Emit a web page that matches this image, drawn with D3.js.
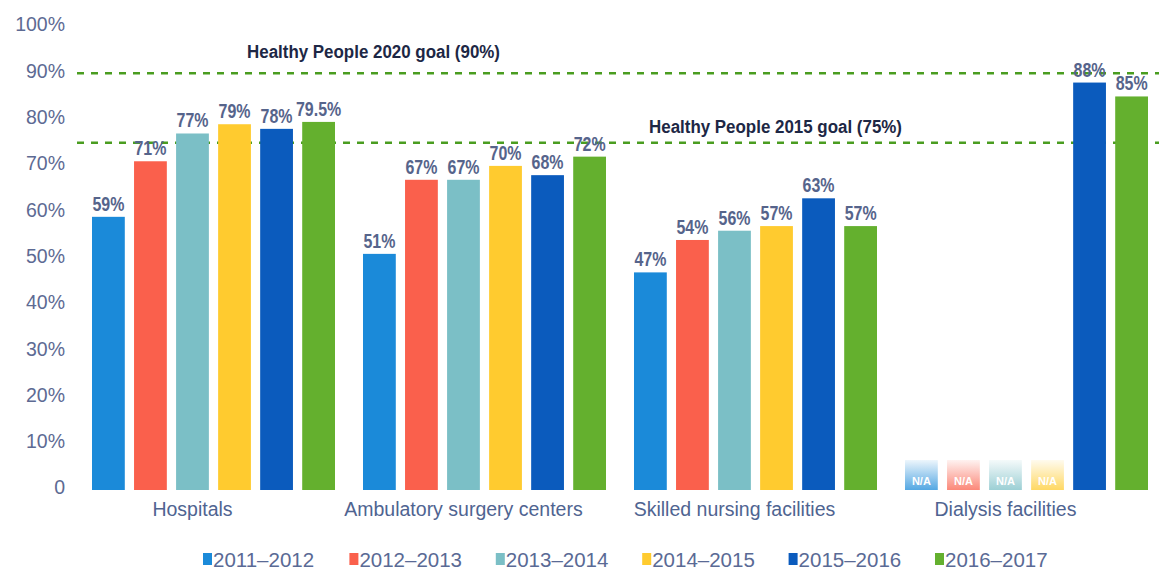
<!DOCTYPE html>
<html>
<head>
<meta charset="utf-8">
<script src="https://cdn.jsdelivr.net/npm/d3@7"></script>
<style>
  body { margin: 0; background: #fff; }
  svg { display: block; }
  .tick text { font-family: "Liberation Sans", Arial, sans-serif; }
</style>
</head>
<body>
<svg id="chart"></svg>
<script>
var screen = {width: 1159, height: 572};

// data
var categories = ["Hospitals", "Ambulatory surgery centers", "Skilled nursing facilities", "Dialysis facilities"];
var seriesNames = ["2011\u20132012", "2012\u20132013", "2013\u20132014", "2014\u20132015", "2015\u20132016", "2016\u20132017"];
var s2011 = [59, 51, 47, null];
var s2012 = [71, 67, 54, null];
var s2013 = [77, 67, 56, null];
var s2014 = [79, 70, 57, null];
var s2015 = [78, 68, 63, 88];
var s2016 = [79.5, 72, 57, 85];
var seriesValues = [s2011, s2012, s2013, s2014, s2015, s2016];
var colors = ["#1b8ad9", "#fa604c", "#7bbfc6", "#ffcb2f", "#0b5bbd", "#64b02e"];
var yTicks = [0, 10, 20, 30, 40, 50, 60, 70, 80, 90, 100];
var goalValues = [90, 75];
var goalLabels = ["Healthy People 2020 goal (90%)", "Healthy People 2015 goal (75%)"];

var svg = d3.select("#chart")
    .attr("width", screen.width)
    .attr("height", screen.height);

var y = d3.scaleLinear().domain([0, 100]).range([490, 27]);
var x0 = d3.scaleBand().domain(categories).range([92, 1148]).paddingInner(0.1033).paddingOuter(0);
var x1 = d3.scaleBand().domain(seriesNames).range([0, 243]).paddingInner(0.22).paddingOuter(0);

var rows = [];
categories.forEach(function(c, i) {
    seriesNames.forEach(function(s, j) {
        rows.push({cat: c, series: s, value: seriesValues[j][i], color: colors[j]});
    });
});

// y axis, labels only
var yAxis = d3.axisLeft(y)
    .tickValues(yTicks)
    .tickFormat(function(d) { return d === 0 ? "0" : d + "%"; })
    .tickSize(0)
    .tickPadding(0);

var ya = svg.append("g")
    .attr("transform", "translate(65,0)")
    .call(yAxis);
ya.select(".domain").remove();
ya.selectAll("text")
    .attr("dy", "0.2em")
    .style("font-size", "19.5px")
    .style("fill", "#5d6a93");

// goal lines (behind the bars)
svg.selectAll(".goal")
    .data(goalValues)
    .enter()
    .append("line")
    .attr("class", "goal")
    .attr("x1", 77)
    .attr("x2", screen.width)
    .attr("y1", function(d) { return y(d); })
    .attr("y2", function(d) { return y(d); })
    .attr("stroke", "#4a9d20")
    .attr("stroke-width", 2.5)
    .attr("stroke-dasharray", "7,7");

var goalX = [247, 649];
var goalDy = [-15, -10];
svg.selectAll(".goalLabel")
    .data(goalValues)
    .enter()
    .append("text")
    .attr("class", "goalLabel")
    .attr("x", function(d, i) { return goalX[i]; })
    .attr("y", function(d, i) { return y(d) + goalDy[i]; })
    .attr("textLength", 253)
    .attr("lengthAdjust", "spacingAndGlyphs")
    .style("font-family", "'Liberation Sans', Arial, sans-serif")
    .style("font-weight", "bold")
    .style("font-size", "18px")
    .style("fill", "#1d2745")
    .text(function(d, i) { return goalLabels[i]; });

// N/A gradients
var defs = svg.append("defs");
colors.forEach(function(c, j) {
    var g = defs.append("linearGradient")
        .attr("id", "na" + j)
        .attr("x1", 0).attr("x2", 0).attr("y1", 0).attr("y2", 1);
    g.append("stop").attr("offset", "0%").attr("stop-color", c).attr("stop-opacity", 0.08);
    g.append("stop").attr("offset", "100%").attr("stop-color", c).attr("stop-opacity", 0.75);
});

// bars
var bars = rows.filter(function(d) { return d.value !== null; });
svg.selectAll(".bar")
    .data(bars)
    .enter()
    .append("rect")
    .attr("class", "bar")
    .attr("x", function(d) { return x0(d.cat) + x1(d.series); })
    .attr("y", function(d) { return y(d.value); })
    .attr("width", x1.bandwidth())
    .attr("height", function(d) { return y(0) - y(d.value); })
    .attr("fill", function(d) { return d.color; });

// bar labels, squeezed horizontally to look condensed
svg.selectAll(".barLabel")
    .data(bars)
    .enter()
    .append("text")
    .attr("class", "barLabel")
    .attr("transform", function(d) {
        var cx = x0(d.cat) + x1(d.series) + x1.bandwidth() / 2;
        return "translate(" + cx + "," + (y(d.value) - 6) + ") scale(0.76,1)";
    })
    .attr("text-anchor", "middle")
    .style("font-family", "'Liberation Sans', Arial, sans-serif")
    .style("font-weight", "bold")
    .style("font-size", "21px")
    .style("fill", "#56648b")
    .text(function(d) { return d.value + "%"; });

// N/A stubs
var naRows = rows.filter(function(d) { return d.value === null; });
var naH = 30;
svg.selectAll(".na")
    .data(naRows)
    .enter()
    .append("rect")
    .attr("class", "na")
    .attr("x", function(d) { return x0(d.cat) + x1(d.series); })
    .attr("y", y(0) - naH)
    .attr("width", x1.bandwidth())
    .attr("height", naH)
    .attr("fill", function(d) { return "url(#na" + seriesNames.indexOf(d.series) + ")"; });

svg.selectAll(".naText")
    .data(naRows)
    .enter()
    .append("text")
    .attr("class", "naText")
    .attr("x", function(d) { return x0(d.cat) + x1(d.series) + x1.bandwidth() / 2; })
    .attr("y", y(0) - 5)
    .attr("text-anchor", "middle")
    .style("font-family", "'Liberation Sans', Arial, sans-serif")
    .style("font-weight", "bold")
    .style("font-size", "11px")
    .style("fill", "#fff")
    .text("N/A");

// category labels under the third bar
svg.selectAll(".catLabel")
    .data(categories)
    .enter()
    .append("text")
    .attr("class", "catLabel")
    .attr("x", function(d) { return x0(d) + x1(seriesNames[2]) + x1.bandwidth() / 2; })
    .attr("y", 516)
    .attr("text-anchor", "middle")
    .style("font-family", "'Liberation Sans', Arial, sans-serif")
    .style("font-size", "19.5px")
    .style("fill", "#4f6491")
    .text(function(d) { return d; });

// legend
var lx = d3.scalePoint().domain(seriesNames).range([203, 935]);
var leg = svg.selectAll(".leg")
    .data(seriesNames)
    .enter()
    .append("g")
    .attr("class", "leg")
    .attr("transform", function(d) { return "translate(" + lx(d) + ",553)"; });
leg.append("rect")
    .attr("width", 9)
    .attr("height", 12)
    .attr("fill", function(d, i) { return colors[i]; });
leg.append("text")
    .attr("x", 10)
    .attr("y", 14)
    .style("font-family", "'Liberation Sans', Arial, sans-serif")
    .style("font-size", "20.5px")
    .style("fill", "#5a6a95")
    .text(function(d) { return d; });
</script>
</body>
</html>
